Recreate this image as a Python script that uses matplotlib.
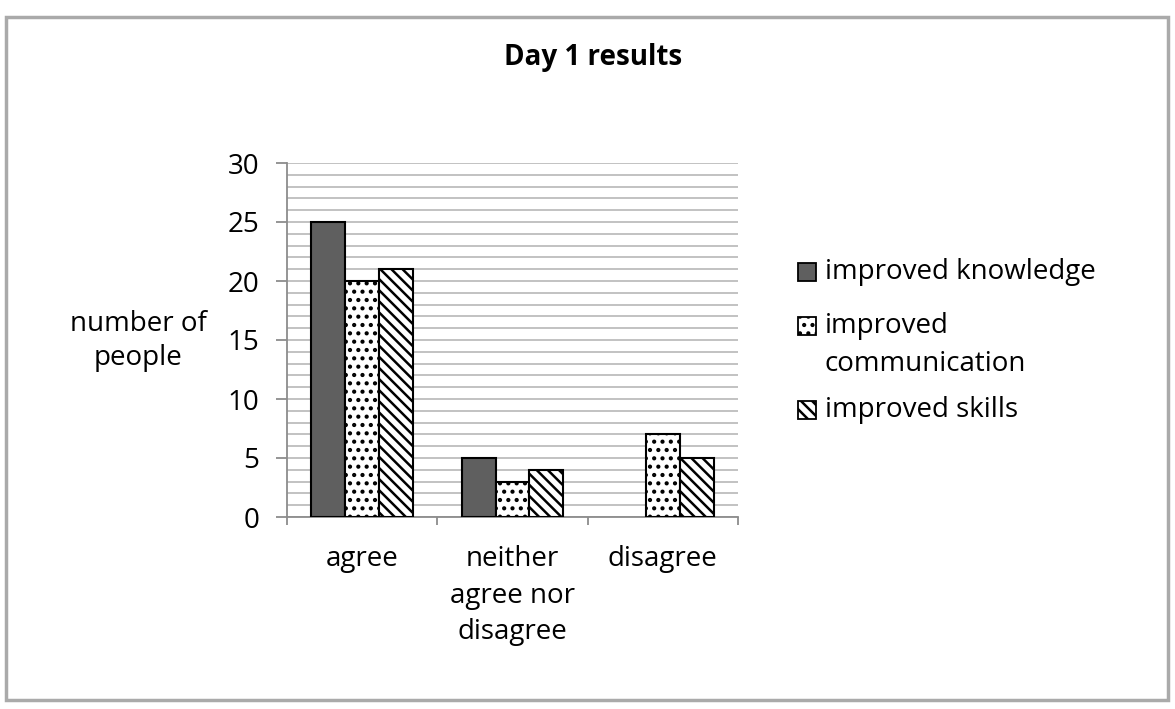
from matplotlib import pyplot as plt
from matplotlib.patches import Rectangle
import numpy as np

categories = ['agree', 'neither\nagree nor\ndisagree', 'disagree']
series_names = ['improved knowledge', 'improved\ncommunication', 'improved skills']
knowledge = [25, 5, 0]
communication = [20, 3, 7]
skills = [21, 4, 5]

plt.rcParams['font.family'] = ['Open Sans', 'DejaVu Sans']
plt.rcParams['hatch.linewidth'] = 1.8
plt.rcParams['hatch.color'] = 'black'

W, H = 1175, 709
fig = plt.figure(figsize=(W / 100, H / 100), dpi=100)
ax = fig.add_axes([287 / W, 1 - 517 / H, 451 / W, 354 / H])

x = np.arange(len(categories))
w = 0.225
styles = [dict(facecolor='#5f5f5f', hatch=None),
          dict(facecolor='white', hatch='..'),
          dict(facecolor='white', hatch='\\\\\\')]
for i, (vals, st) in enumerate(zip([knowledge, communication, skills], styles)):
    lw = [1.5 if v > 0 else 0 for v in vals]
    ax.bar(x + (i - 1) * w, vals, width=w, edgecolor='black', linewidth=lw,
           zorder=3, **st)

ax.set_ylim(0, 30)
ax.set_xlim(-0.5, 2.5)
ax.set_yticks(range(0, 31, 5))
ax.set_yticks(range(0, 31), minor=True)
ax.yaxis.grid(True, which='both', color='#bdbdbd', linewidth=1.3, zorder=0)
ax.set_axisbelow(True)

ax.set_xticks(x)
ax.set_xticklabels(categories, fontsize=20, linespacing=1.42, va='top')
ax.set_xticks([-0.5, 0.5, 1.5, 2.5], minor=True)
ax.tick_params(axis='x', which='major', length=0, pad=20)
ax.tick_params(axis='x', which='minor', length=6, color='#8c8c8c', width=1.3)
ax.tick_params(axis='y', which='major', labelsize=20, length=8, color='#8c8c8c', width=1.3, pad=12)
ax.tick_params(axis='y', which='minor', length=0)

for s in ['top', 'right']:
    ax.spines[s].set_visible(False)
for s in ['left', 'bottom']:
    ax.spines[s].set_color('#8c8c8c')
    ax.spines[s].set_linewidth(1.3)

fig.text(138 / W, 1 - 341 / H, 'number of\npeople', fontsize=20, ha='center', va='center',
         linespacing=1.32)
fig.text(593 / W, 1 - 57 / H, 'Day 1 results', fontsize=20, fontweight='bold',
         ha='center', va='center')

# legend drawn by hand so the marker sits on the first line of a wrapped label
entry_y = [272, 326, 410]
for name, st, y0 in zip(series_names, styles, entry_y):
    fig.patches.append(Rectangle((798 / W, 1 - (y0 + 9) / H), 18 / W, 18 / H,
                                 transform=fig.transFigure, edgecolor='black',
                                 linewidth=1.3, **st))
    for k, line in enumerate(name.split('\n')):
        fig.text(825 / W, 1 - (y0 + k * 38) / H, line, fontsize=20, ha='left', va='center')

fig.patches.append(Rectangle((0.005, 0.013), 0.989, 0.963, transform=fig.transFigure,
                             fill=False, edgecolor='#aaaaaa', linewidth=2.5))

plt.savefig('out.png', dpi=100)
